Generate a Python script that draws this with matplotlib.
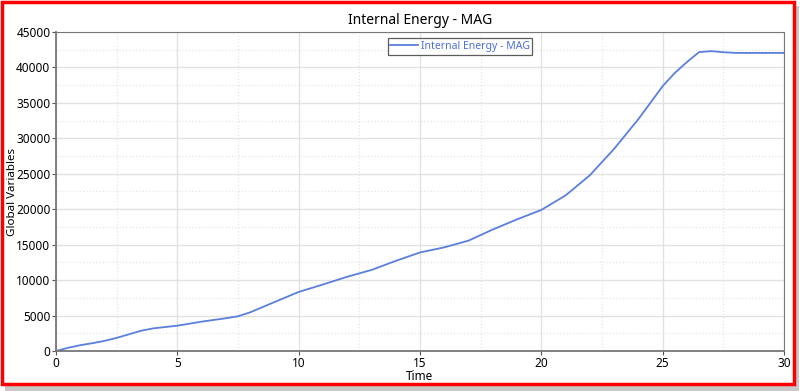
import numpy as np
import matplotlib
matplotlib.use('Agg')
import matplotlib.pyplot as plt
from matplotlib.patches import Rectangle

# Values
time = [0, 0.5, 1, 1.5, 2, 2.5, 3, 3.5, 4, 5, 6, 7, 7.5, 8, 9, 10, 11, 12, 13, 14,
        15, 16, 17, 18, 19, 20, 21, 22, 23, 24, 25, 25.5, 26, 26.5, 27, 27.5, 28, 29, 30]
energy = [0, 450, 820, 1100, 1430, 1850, 2350, 2850, 3190, 3570, 4140, 4620, 4900,
          5450, 6900, 8330, 9380, 10470, 11430, 12710, 13900, 14620, 15570, 17140,
          18570, 19900, 21950, 24790, 28520, 32710, 37360, 39220, 40760, 42160,
          42300, 42150, 42050, 42050, 42050]

plt.rcParams['font.family'] = ['Noto Sans', 'DejaVu Sans']

fig = plt.figure(figsize=(8, 3.91), dpi=100)

# shadow + red frame around the whole picture
fig.patches.append(Rectangle((0.006, 0.0), 0.993, 0.985, transform=fig.transFigure,
                             facecolor='#c8c8c8', edgecolor='none', zorder=-2))
fig.patches.append(Rectangle((0.003, 0.018), 0.99, 0.977, transform=fig.transFigure,
                             facecolor='white', edgecolor='#ff0000', linewidth=2.5, zorder=-1))

ax = fig.add_axes([0.07, 0.1023, 0.91, 0.8159])
ax.plot(time, energy, color='#5a7fdc', linewidth=1.3, label='Internal Energy - MAG')

ax.set_xlim(0, 30)
ax.set_ylim(0, 45000)
ax.set_xticks(np.arange(0, 31, 5))
ax.set_yticks(np.arange(0, 45001, 5000))
ax.set_xticks(np.arange(2.5, 30, 5), minor=True)
ax.set_yticks(np.arange(2500, 45000, 5000), minor=True)
ax.tick_params(which='minor', length=0)
ax.tick_params(which='major', length=3, labelsize=8.5, color='#555555', pad=1)
ax.grid(which='major', color='#e2e2e2', linewidth=1)
ax.grid(which='minor', color='#e6e6e6', linestyle=':', linewidth=0.9)
ax.set_axisbelow(True)
for s in ax.spines.values():
    s.set_color('#777777')
ax.spines['left'].set_linewidth(1.3)
ax.spines['bottom'].set_linewidth(1.3)

ax.set_title('Internal Energy - MAG', fontsize=10, pad=6)
ax.set_xlabel('Time', fontsize=8.5, labelpad=0)
ax.set_ylabel('Global Variables', fontsize=8.3)
ax.yaxis.set_label_coords(-0.052, 0.5)

leg = ax.legend(loc='upper center', bbox_to_anchor=(0.555, 0.98), fontsize=7.5,
                frameon=True, fancybox=False, handlelength=2.6, borderpad=0.25,
                handletextpad=0.3, borderaxespad=0)
leg.get_frame().set_edgecolor('#333333')
leg.get_frame().set_linewidth(0.9)
for t in leg.get_texts():
    t.set_color('#4a6fd8')

fig.savefig('out.png', dpi=100)
